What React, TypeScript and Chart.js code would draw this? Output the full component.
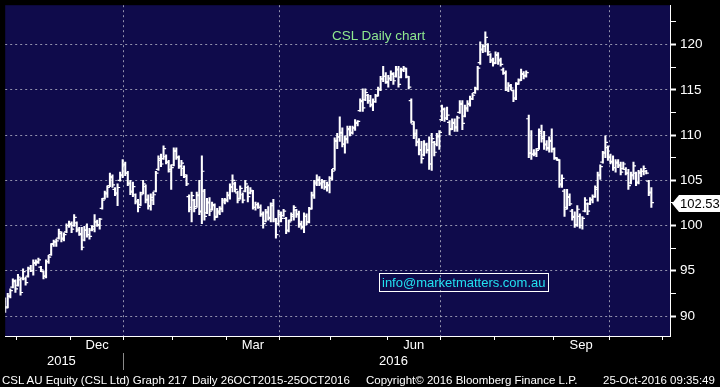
import { useEffect, useRef } from 'react';
import { Chart, registerables } from 'chart.js';

Chart.register(...registerables);

// Daily OHLC, 26 Oct 2015 – 25 Oct 2016 (254 trading days, index 0..253)
const highs = [
  92.0, 92.5, 93.0, 94.1, 94.0, 94.6, 94.2, 95.2, 94.3, 95.4,
  95.6, 96.2, 96.2, 96.4, 95.5, 95.0, 96.2, 96.7, 98.0, 98.4,
  98.5, 99.6, 99.3, 99.2, 100.2, 100.5, 100.4, 101.2, 100.4, 99.8,
  99.8, 99.9, 100.2, 99.7, 100.0, 101.2, 100.6, 100.8, 103.0, 103.8,
  104.4, 105.8, 105.6, 104.2, 104.6, 105.9, 107.3, 107.0, 106.0, 105.0,
  104.8, 103.5, 102.9, 103.7, 105.0, 104.5, 103.4, 103.5, 103.7, 106.0,
  107.7, 107.9, 108.8, 107.8, 107.2, 106.7, 108.6, 108.6, 107.7, 107.2,
  106.6, 105.6, 103.4, 103.7, 102.9, 103.7, 105.0, 107.7, 104.0, 103.0,
  103.1, 102.6, 102.4, 101.9, 102.1, 103.0, 103.0, 103.7, 104.6, 105.6,
  104.8, 103.8, 104.4, 103.6, 105.0, 104.4, 104.2, 103.9, 102.6, 102.5,
  102.3, 101.5, 101.8, 102.1, 102.5, 102.9, 100.8, 101.7, 101.5, 101.8,
  100.9, 100.6, 101.4, 102.2, 101.8, 101.6, 100.5, 101.4, 101.3, 102.0,
  103.7, 105.0, 105.6, 105.4, 105.1, 105.0, 104.8, 105.4, 106.2, 109.7,
  110.2, 112.0, 110.8, 109.9, 111.0, 111.0, 111.0, 111.7, 111.6, 114.0,
  115.1, 115.1, 114.5, 114.4, 114.0, 114.5, 115.3, 116.5, 117.6, 116.9,
  116.6, 117.1, 116.9, 117.6, 117.6, 117.4, 117.6, 117.4, 116.5, 114.0,
  111.5, 110.6, 109.6, 109.3, 109.4, 109.1, 109.8, 110.2, 109.3, 110.2,
  110.5, 113.3, 113.0, 113.1, 111.6, 111.8, 111.8, 112.1, 113.8, 113.8,
  113.3, 113.8, 114.3, 114.6, 115.3, 117.6, 120.3, 120.0, 121.4, 120.1,
  119.0, 118.5, 119.2, 119.1, 118.5, 117.4, 117.1, 115.8, 115.6, 115.0,
  115.8, 116.2, 117.3, 117.0, 117.1, 112.2, 110.5, 108.4, 108.5, 110.7,
  111.1, 110.4, 109.4, 109.8, 110.7, 108.6, 107.5, 107.3, 105.6, 104.0,
  104.0, 103.5, 101.8, 101.5, 102.2, 101.3, 101.0, 103.1, 102.5, 103.1,
  103.4, 104.4, 105.9, 106.7, 108.2, 109.9, 108.8, 107.9, 107.7, 107.3,
  107.3, 107.0, 107.0, 106.4, 106.2, 105.9, 107.0, 105.9, 106.1, 106.3,
  106.6, 106.1, 105.0, 104.2,
];

const lows = [
  90.4, 90.9, 92.0, 93.1, 92.6, 93.3, 92.3, 94.0, 93.4, 94.3,
  94.9, 94.5, 95.6, 95.8, 94.9, 94.1, 94.2, 95.8, 96.7, 97.7,
  97.7, 98.5, 98.2, 98.3, 99.2, 99.8, 99.2, 99.9, 99.3, 98.9,
  97.3, 98.3, 98.7, 98.5, 99.4, 99.3, 99.9, 99.6, 101.8, 102.9,
  103.1, 104.3, 104.2, 103.3, 102.2, 104.9, 105.3, 105.5, 104.4, 103.4,
  103.2, 102.4, 101.5, 102.2, 103.5, 102.5, 101.8, 101.7, 102.3, 103.7,
  106.1, 106.5, 107.3, 106.8, 105.9, 104.0, 106.6, 107.3, 106.3, 105.5,
  105.3, 104.4, 101.5, 100.4, 101.5, 102.0, 101.2, 100.2, 100.6, 101.3,
  101.1, 101.7, 100.6, 100.9, 101.2, 101.5, 102.4, 102.6, 102.9, 103.7,
  103.7, 102.5, 102.9, 102.5, 103.7, 102.6, 103.5, 101.8, 101.7, 101.9,
  101.0, 99.7, 100.4, 100.6, 100.4, 100.4, 98.6, 100.0, 100.4, 101.0,
  99.1, 99.3, 100.5, 100.6, 100.9, 99.8, 99.6, 99.2, 100.1, 100.3,
  101.8, 103.0, 104.4, 104.4, 104.1, 104.0, 103.8, 103.6, 105.0, 106.1,
  108.5, 109.3, 108.7, 108.0, 109.1, 109.9, 110.1, 110.5, 111.0, 112.6,
  112.6, 113.8, 113.5, 113.1, 112.7, 113.6, 114.3, 114.9, 115.9, 115.7,
  115.3, 116.0, 115.6, 116.4, 115.3, 116.3, 117.0, 116.3, 115.1, 111.3,
  109.6, 108.8, 107.8, 106.9, 107.7, 108.0, 106.2, 106.1, 107.7, 108.8,
  108.4, 111.6, 111.5, 111.7, 110.0, 110.6, 110.4, 110.4, 112.4, 110.6,
  112.0, 112.6, 113.2, 113.9, 114.6, 115.0, 117.8, 119.1, 119.2, 118.8,
  118.0, 117.6, 117.9, 117.8, 117.6, 116.7, 114.9, 114.8, 115.0, 113.7,
  113.9, 115.6, 116.0, 116.2, 116.4, 107.5, 107.3, 107.7, 107.6, 108.4,
  109.2, 108.4, 108.3, 108.1, 108.1, 107.3, 107.2, 104.2, 104.2, 101.0,
  101.8, 102.2, 100.6, 99.8, 99.9, 99.7, 99.6, 101.5, 101.2, 102.3,
  102.5, 103.1, 102.7, 105.1, 106.9, 107.5, 107.2, 106.8, 106.1, 105.9,
  106.4, 105.6, 106.2, 105.6, 104.0, 104.6, 105.1, 104.4, 104.6, 105.4,
  105.6, 105.7, 103.3, 102.0,
];

const opens = [
  91.6, 91.0, 92.2, 93.2, 93.8, 93.4, 94.0, 94.2, 94.1, 94.4,
  95.3, 95.0, 95.8, 95.9, 95.4, 94.9, 94.4, 96.0, 96.8, 98.0,
  98.2, 98.6, 99.1, 98.6, 99.3, 100.0, 100.1, 100.0, 100.3, 99.6,
  99.0, 98.4, 99.5, 99.0, 99.5, 99.6, 100.4, 100.0, 101.9, 103.0,
  103.5, 104.4, 105.3, 104.0, 103.5, 105.0, 105.5, 106.7, 105.8, 104.6,
  103.7, 103.4, 102.6, 102.3, 103.6, 104.3, 102.9, 102.1, 102.8, 103.8,
  106.2, 107.2, 107.4, 107.6, 107.0, 106.0, 106.7, 108.2, 107.5, 106.5,
  106.3, 105.4, 103.2, 101.8, 102.8, 102.1, 103.3, 101.5, 103.8, 101.4,
  102.5, 101.8, 102.2, 101.0, 101.4, 101.8, 102.6, 102.8, 103.3, 104.2,
  104.6, 103.6, 103.0, 103.4, 103.8, 104.2, 103.6, 103.8, 102.0, 102.3,
  102.0, 101.2, 100.5, 101.4, 100.8, 102.4, 100.5, 100.2, 101.2, 101.1,
  100.8, 99.5, 100.6, 101.0, 101.7, 101.3, 100.2, 99.8, 101.0, 100.4,
  101.9, 103.3, 104.6, 105.0, 104.6, 104.8, 104.2, 104.4, 105.2, 106.3,
  109.3, 109.8, 110.3, 109.0, 109.5, 110.6, 110.3, 110.8, 111.3, 112.7,
  113.7, 113.9, 114.4, 113.8, 113.3, 113.7, 114.4, 115.0, 116.2, 116.5,
  115.8, 116.2, 116.7, 116.5, 117.2, 116.4, 117.2, 117.3, 116.4, 113.8,
  111.2, 110.2, 109.3, 108.4, 107.8, 108.9, 108.4, 106.8, 109.2, 109.0,
  109.8, 111.7, 112.8, 111.9, 111.4, 110.7, 111.3, 110.9, 112.5, 113.5,
  112.1, 112.9, 113.4, 114.0, 114.7, 115.2, 118.0, 119.4, 119.8, 120.0,
  118.9, 118.2, 118.0, 118.8, 118.3, 117.2, 116.8, 115.0, 115.4, 114.9,
  114.1, 115.7, 116.1, 116.7, 116.6, 111.8, 108.0, 107.9, 107.9, 108.5,
  110.4, 109.8, 109.0, 108.5, 109.3, 108.4, 107.4, 107.2, 104.5, 103.8,
  102.0, 103.1, 101.6, 101.0, 100.1, 101.0, 100.0, 101.6, 102.4, 102.4,
  102.8, 103.2, 104.0, 105.5, 107.0, 108.1, 108.6, 107.5, 107.0, 106.4,
  106.9, 106.6, 106.3, 106.2, 105.8, 104.7, 105.5, 105.8, 104.8, 105.8,
  106.0, 106.0, 104.9, 103.7,
];

const closes = [
  90.9, 92.2, 92.8, 93.9, 93.0, 94.3, 92.6, 94.9, 93.7, 95.2,
  95.0, 95.9, 96.0, 96.2, 95.1, 94.4, 96.0, 96.5, 97.9, 98.2,
  98.3, 99.3, 98.5, 99.0, 100.0, 100.2, 99.6, 100.9, 99.5, 99.1,
  97.6, 99.5, 99.0, 98.8, 99.9, 100.4, 100.1, 100.7, 102.8, 103.6,
  104.2, 105.4, 104.5, 103.6, 104.2, 105.6, 106.8, 105.8, 104.7, 103.8,
  104.3, 102.7, 102.0, 103.4, 104.6, 102.8, 102.2, 103.1, 103.4, 105.8,
  107.4, 106.8, 108.5, 107.0, 106.2, 106.4, 108.3, 107.6, 106.6, 106.9,
  105.6, 104.6, 102.0, 103.3, 101.9, 103.4, 101.6, 106.0, 101.0, 102.6,
  101.6, 102.3, 100.9, 101.6, 101.9, 102.8, 102.8, 103.4, 104.3, 105.0,
  104.0, 102.8, 104.1, 102.8, 104.6, 103.2, 103.9, 102.0, 102.3, 102.0,
  101.3, 100.2, 101.5, 100.9, 102.2, 100.7, 99.0, 101.4, 100.8, 101.6,
  99.4, 100.4, 101.2, 102.0, 101.2, 100.1, 99.9, 101.0, 100.4, 101.8,
  103.4, 104.8, 105.1, 104.7, 104.9, 104.3, 104.5, 105.2, 106.0, 109.4,
  109.8, 110.2, 109.0, 109.6, 110.7, 110.2, 110.8, 111.4, 111.5, 113.8,
  113.0, 114.7, 113.8, 113.4, 113.7, 114.3, 115.1, 116.2, 116.5, 115.9,
  116.3, 116.8, 116.0, 117.3, 115.6, 117.2, 117.4, 116.5, 115.3, 111.5,
  110.0, 109.2, 108.3, 107.4, 109.0, 108.3, 106.8, 109.6, 108.1, 109.9,
  110.3, 112.9, 111.8, 112.2, 110.6, 111.4, 110.8, 111.9, 113.4, 111.3,
  113.0, 113.5, 114.0, 114.4, 115.1, 117.4, 119.5, 119.8, 120.8, 119.2,
  118.3, 117.9, 118.9, 118.2, 117.8, 116.9, 115.2, 115.5, 115.2, 114.0,
  115.6, 116.0, 116.8, 116.5, 116.9, 108.0, 107.9, 108.0, 108.3, 110.2,
  109.6, 108.9, 108.6, 109.4, 108.5, 107.5, 107.3, 104.6, 105.2, 101.8,
  103.2, 102.4, 100.9, 100.0, 101.8, 100.0, 100.8, 102.8, 101.6, 102.9,
  103.2, 104.2, 105.6, 106.5, 108.0, 109.2, 107.6, 107.1, 106.4, 107.0,
  106.7, 105.9, 106.8, 105.8, 104.4, 105.6, 106.6, 104.7, 105.9, 106.0,
  106.3, 105.8, 103.6, 102.53,
];

// x-axis (bar index) positions of month starts, quarter grid lines, labels
const monthBounds = [4.5, 25.5, 46.5, 65.5, 86.5, 107.5, 127.5, 149.5, 170.5, 191.5, 214.5, 236.5, 257.5];
const quarterBounds = [46.5, 107.5, 170.5, 236.5];
const monthLabelPos = [36, 97, 160, 225.5];
const monthLabels = ['Dec', 'Mar', 'Jun', 'Sep'];
const yearLabelPos = [22, 152];
const yearLabels = ['2015', '2016'];
const yearSeparator = 46.5;
const yTicks = [90, 92.5, 95, 97.5, 100, 102.5, 105, 107.5, 110, 112.5, 115, 117.5, 120, 122.5];
const lastPrice = 102.53;

const FONT = "'Liberation Sans', Arial, sans-serif";
const GRID = 'rgba(170,170,190,0.85)';
const X_MIN = 0;
const X_MAX = 260.3;

const bgPlugin = {
  id: 'plotBg',
  beforeDraw(chart: any) {
    const { ctx, chartArea } = chart;
    ctx.save();
    ctx.fillStyle = '#0f0b4b';
    ctx.fillRect(chartArea.left, chartArea.top, chartArea.right - chartArea.left, chartArea.bottom - chartArea.top);
    ctx.restore();
  },
};

const lastPricePlugin = {
  id: 'lastPrice',
  afterDraw(chart: any) {
    const { ctx, chartArea } = chart;
    const y = Math.round(chart.scales.y.getPixelForValue(lastPrice)) + 0.5;
    const x0 = chartArea.right + 2;
    ctx.save();
    ctx.fillStyle = '#ffffff';
    ctx.beginPath();
    ctx.moveTo(x0, y);
    ctx.lineTo(x0 + 7, y - 8.5);
    ctx.lineTo(720, y - 8.5);
    ctx.lineTo(720, y + 8.5);
    ctx.lineTo(x0 + 7, y + 8.5);
    ctx.closePath();
    ctx.fill();
    ctx.fillStyle = '#000000';
    ctx.font = `13px ${FONT}`;
    ctx.textBaseline = 'middle';
    ctx.textAlign = 'left';
    ctx.fillText(lastPrice.toFixed(2), x0 + 8, y + 0.5);
    ctx.restore();
  },
};

export default function App() {
  const canvasRef = useRef<HTMLCanvasElement | null>(null);

  useEffect(() => {
    if (!canvasRef.current) return;
    const rangeData = highs.map((h, i) => ({ x: i, y: [lows[i], h] }));
    const openData = opens.map((o, i) => ({ x: i - 0.5, y: o }));
    const closeData = closes.map((c, i) => ({ x: i + 0.5, y: c }));

    const chart = new Chart(canvasRef.current, {
      type: 'bar',
      data: {
        datasets: [
          {
            type: 'bar',
            label: 'High-Low',
            data: rangeData as any,
            backgroundColor: '#ffffff',
            borderWidth: 0,
            barThickness: 1.4,
            grouped: false,
            xAxisID: 'x',
            yAxisID: 'y',
          } as any,
          {
            type: 'line',
            label: 'Open',
            data: openData,
            showLine: false,
            pointStyle: 'line',
            pointRadius: 1.3,
            pointBorderWidth: 1.2,
            pointBorderColor: '#ffffff',
            pointBackgroundColor: '#ffffff',
            xAxisID: 'x',
            yAxisID: 'y',
          } as any,
          {
            type: 'line',
            label: 'Close',
            data: closeData,
            showLine: false,
            pointStyle: 'line',
            pointRadius: 1.3,
            pointBorderWidth: 1.2,
            pointBorderColor: '#ffffff',
            pointBackgroundColor: '#ffffff',
            xAxisID: 'x',
            yAxisID: 'y',
          } as any,
        ],
      },
      options: {
        responsive: false,
        animation: false,
        events: [],
        layout: { padding: { left: 0, top: 0, right: 0, bottom: 15 } },
        plugins: {
          legend: { display: false },
          tooltip: { enabled: false },
          title: { display: false },
        },
        scales: {
          x: {
            type: 'linear',
            position: 'bottom',
            offset: false,
            min: X_MIN,
            max: X_MAX,
            weight: 0,
            afterBuildTicks: (s: any) => {
              s.ticks = [...monthBounds, ...monthLabelPos].sort((a, b) => a - b).map((v) => ({ value: v }));
            },
            afterFit: (s: any) => {
              s.height = 17;
              s.paddingLeft = 0;
              s.paddingRight = 0;
            },
            ticks: {
              autoSkip: false,
              maxRotation: 0,
              minRotation: 0,
              padding: -2,
              color: '#ffffff',
              font: { family: FONT, size: 13 },
              callback: (v: any) => {
                const k = monthLabelPos.indexOf(Number(v));
                return k >= 0 ? monthLabels[k] : '';
              },
            },
            grid: {
              display: true,
              offset: false,
              drawOnChartArea: true,
              drawTicks: true,
              tickLength: 4,
              lineWidth: 1,
              color: (c: any) => (c.tick && quarterBounds.includes(c.tick.value) ? GRID : 'rgba(0,0,0,0)'),
              tickColor: (c: any) => (c.tick && monthBounds.includes(c.tick.value) ? '#ffffff' : 'rgba(0,0,0,0)'),
            },
            border: { display: true, color: '#ffffff', width: 1, dash: [2, 3] },
          },
          x3: {
            type: 'linear',
            position: 'bottom',
            display: true,
            offset: false,
            min: X_MIN,
            max: X_MAX,
            weight: 1,
            afterBuildTicks: (s: any) => {
              s.ticks = [yearLabelPos[0], yearSeparator, yearLabelPos[1]].map((v) => ({ value: v }));
            },
            afterFit: (s: any) => {
              s.height = 19;
              s.paddingLeft = 0;
              s.paddingRight = 0;
            },
            ticks: {
              autoSkip: false,
              maxRotation: 0,
              minRotation: 0,
              padding: -16,
              color: '#ffffff',
              font: { family: FONT, size: 13 },
              callback: (v: any) => {
                const k = yearLabelPos.indexOf(Number(v));
                return k >= 0 ? yearLabels[k] : '';
              },
            },
            grid: {
              display: true,
              offset: false,
              drawOnChartArea: false,
              drawTicks: true,
              tickLength: 17,
              color: 'rgba(0,0,0,0)',
              tickColor: (c: any) => (c.tick && c.tick.value === yearSeparator ? '#8a8a8a' : 'rgba(0,0,0,0)'),
            },
            border: { display: false },
          },
          y: {
            type: 'linear',
            position: 'right',
            min: 87.79,
            max: 124.35,
            afterBuildTicks: (s: any) => {
              s.ticks = yTicks.map((v) => ({ value: v }));
            },
            afterFit: (s: any) => {
              s.width = 50;
              s.paddingTop = 0;
              s.paddingBottom = 0;
            },
            ticks: {
              autoSkip: false,
              padding: 4,
              color: '#ffffff',
              font: { family: FONT, size: 13.5 },
              callback: (v: any) => (Number(v) % 5 === 0 ? String(v) : ''),
            },
            grid: {
              display: true,
              drawOnChartArea: true,
              drawTicks: true,
              tickLength: 6,
              color: (c: any) => (c.tick && c.tick.value % 5 === 0 ? GRID : 'rgba(0,0,0,0)'),
              tickColor: '#ffffff',
              tickWidth: (c: any) => (c.tick && c.tick.value % 5 === 0 ? 2 : 1),
            },
            border: { display: true, color: '#ffffff', width: 1, dash: [2, 3] },
          },
        },
      } as any,
      plugins: [bgPlugin, lastPricePlugin],
    });
    return () => chart.destroy();
  }, []);

  const footerStyle: any = {
    position: 'absolute',
    top: 372,
    height: 16,
    lineHeight: '16px',
    color: '#ffffff',
    fontFamily: FONT,
    fontSize: 11.5,
    whiteSpace: 'nowrap',
  };

  return (
    <div style={{ position: 'fixed', left: 0, top: 0, width: 720, height: 387, background: '#000000', overflow: 'hidden' }}>
      <canvas ref={canvasRef} width={720} height={387} style={{ position: 'absolute', left: 0, top: 0, width: 720, height: 387 }} />
      <div style={{ position: 'absolute', left: 332, top: 27, lineHeight: '18px', color: '#8fe88f', fontFamily: FONT, fontSize: 13.5, whiteSpace: 'nowrap' }}>
        CSL Daily chart
      </div>
      <div
        style={{
          position: 'absolute',
          left: 379,
          top: 273,
          width: 166,
          height: 17,
          border: '1px solid #ffffff',
          color: '#22e0f0',
          fontFamily: FONT,
          fontSize: 13,
          lineHeight: '17px',
          paddingLeft: 2,
          whiteSpace: 'nowrap',
          boxSizing: 'content-box',
        }}
      >
        info@marketmatters.com.au
      </div>
      <div style={{ ...footerStyle, left: 2 }}>CSL AU Equity (CSL Ltd) Graph 217</div>
      <div style={{ ...footerStyle, left: 192 }}>Daily 26OCT2015-25OCT2016</div>
      <div style={{ ...footerStyle, left: 366 }}>Copyright© 2016 Bloomberg Finance L.P.</div>
      <div style={{ ...footerStyle, left: 603 }}>25-Oct-2016 09:35:49</div>
    </div>
  );
}
